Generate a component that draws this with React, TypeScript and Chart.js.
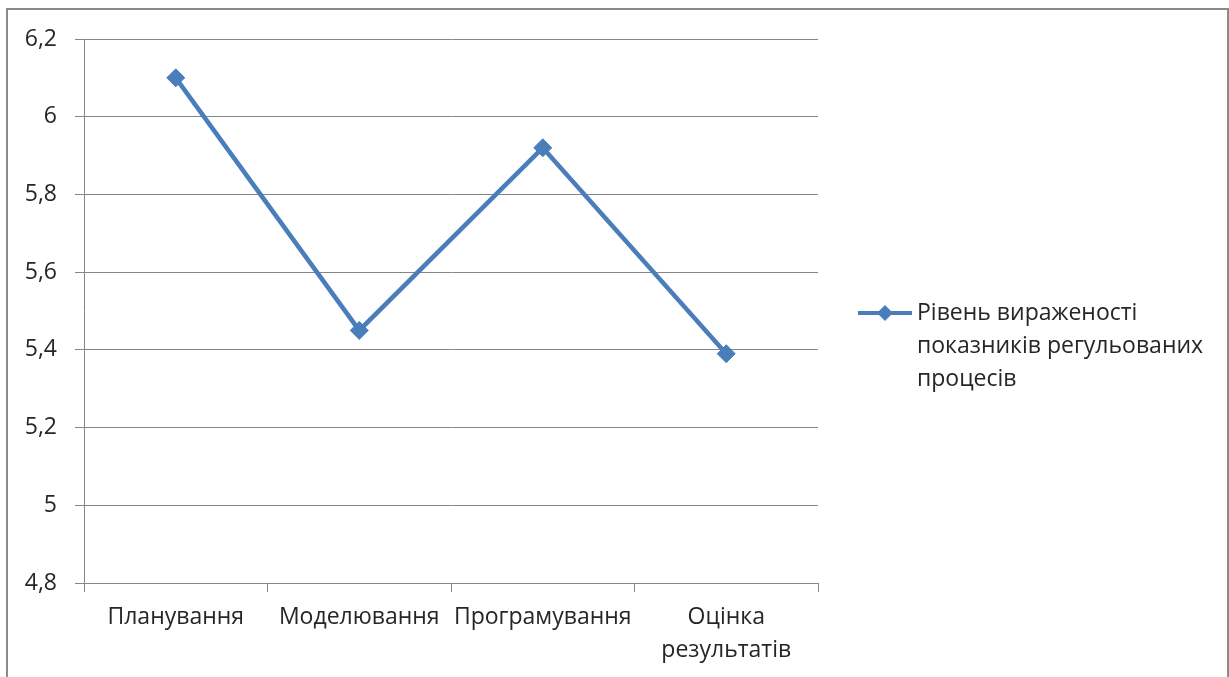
import React, { useEffect, useRef } from "react";
import { Chart, registerables } from "chart.js";

Chart.register(...registerables);

const categories: (string | string[])[] = [
  "Планування",
  "Моделювання",
  "Програмування",
  ["Оцінка", "результатів"],
];
const seriesValues = [6.1, 5.45, 5.92, 5.39];
const seriesName = ["Рівень вираженості", "показників регульованих", "процесів"];
const yMin = 4.8;
const yMax = 6.2;
const yStep = 0.2;

const FONT = "'Open Sans', Lato, sans-serif";
const FONT_SIZE = 23;
const TEXT_COLOR = "#262626";
const GRID_COLOR = "#868686";
const LINE_COLOR = "#4A7EBB";

const formatTick = (v: number) => String(+v.toFixed(1)).replace(".", ",");

// Legend on the right, drawn by hand so its label can wrap over three lines
const sideLegend = {
  id: "sideLegend",
  afterDraw(chart: Chart) {
    const ctx = chart.ctx;
    const x0 = 858;
    const y0 = 313;
    ctx.save();
    ctx.strokeStyle = LINE_COLOR;
    ctx.lineWidth = 4;
    ctx.beginPath();
    ctx.moveTo(x0, y0);
    ctx.lineTo(x0 + 54, y0);
    ctx.stroke();
    ctx.fillStyle = LINE_COLOR;
    ctx.beginPath();
    ctx.moveTo(x0 + 27 - 8, y0);
    ctx.lineTo(x0 + 27, y0 - 8);
    ctx.lineTo(x0 + 27 + 8, y0);
    ctx.lineTo(x0 + 27, y0 + 8);
    ctx.closePath();
    ctx.fill();
    ctx.fillStyle = TEXT_COLOR;
    ctx.font = `${FONT_SIZE}px ${FONT}`;
    ctx.textAlign = "left";
    ctx.textBaseline = "middle";
    seriesName.forEach((line, i) => {
      ctx.fillText(line, x0 + 59, y0 + i * 33);
    });
    ctx.restore();
  },
};

export default function App() {
  const canvasRef = useRef<HTMLCanvasElement | null>(null);

  useEffect(() => {
    if (!canvasRef.current) return;
    const chart = new Chart(canvasRef.current, {
      type: "line",
      data: {
        labels: categories,
        datasets: [
          {
            label: seriesName.join(" "),
            data: seriesValues,
            borderColor: LINE_COLOR,
            backgroundColor: LINE_COLOR,
            borderWidth: 4.5,
            pointStyle: "rectRot",
            pointRadius: 9,
            pointBorderWidth: 1,
            pointBackgroundColor: LINE_COLOR,
            pointBorderColor: LINE_COLOR,
            tension: 0,
          },
        ],
      },
      options: {
        animation: false,
        responsive: true,
        maintainAspectRatio: false,
        layout: { padding: { top: 39, right: 411, bottom: 0, left: 0 } },
        plugins: {
          legend: { display: false },
          tooltip: { enabled: false },
        },
        scales: {
          x: {
            offset: true,
            grid: {
              offset: true,
              drawOnChartArea: false,
              drawTicks: true,
              tickLength: 9,
              color: GRID_COLOR,
            },
            border: { color: GRID_COLOR, width: 1 },
            ticks: {
              color: TEXT_COLOR,
              font: { family: FONT, size: FONT_SIZE, lineHeight: 1.43 },
              padding: 9,
              maxRotation: 0,
              autoSkip: false,
            },
            afterFit: (scale: any) => {
              scale.height = 94;
            },
          },
          y: {
            min: yMin,
            max: yMax,
            grid: { color: GRID_COLOR, tickLength: 9, lineWidth: 1 },
            border: { color: GRID_COLOR, width: 1 },
            ticks: {
              stepSize: yStep,
              color: TEXT_COLOR,
              font: { family: FONT, size: FONT_SIZE },
              padding: 18,
              callback: (v: any) => formatTick(Number(v)),
            },
            afterFit: (scale: any) => {
              scale.width = 84;
            },
          },
        },
      },
      plugins: [sideLegend],
    });
    return () => chart.destroy();
  }, []);

  return (
    <div style={{ position: "fixed", left: 0, top: 0, width: 1229, height: 677, background: "#fff" }}>
      <canvas ref={canvasRef} />
      <div
        style={{
          position: "absolute",
          left: 6,
          top: 8,
          width: 1219,
          height: 700,
          border: "2px solid #8a8a8a",
          pointerEvents: "none",
        }}
      />
    </div>
  );
}
